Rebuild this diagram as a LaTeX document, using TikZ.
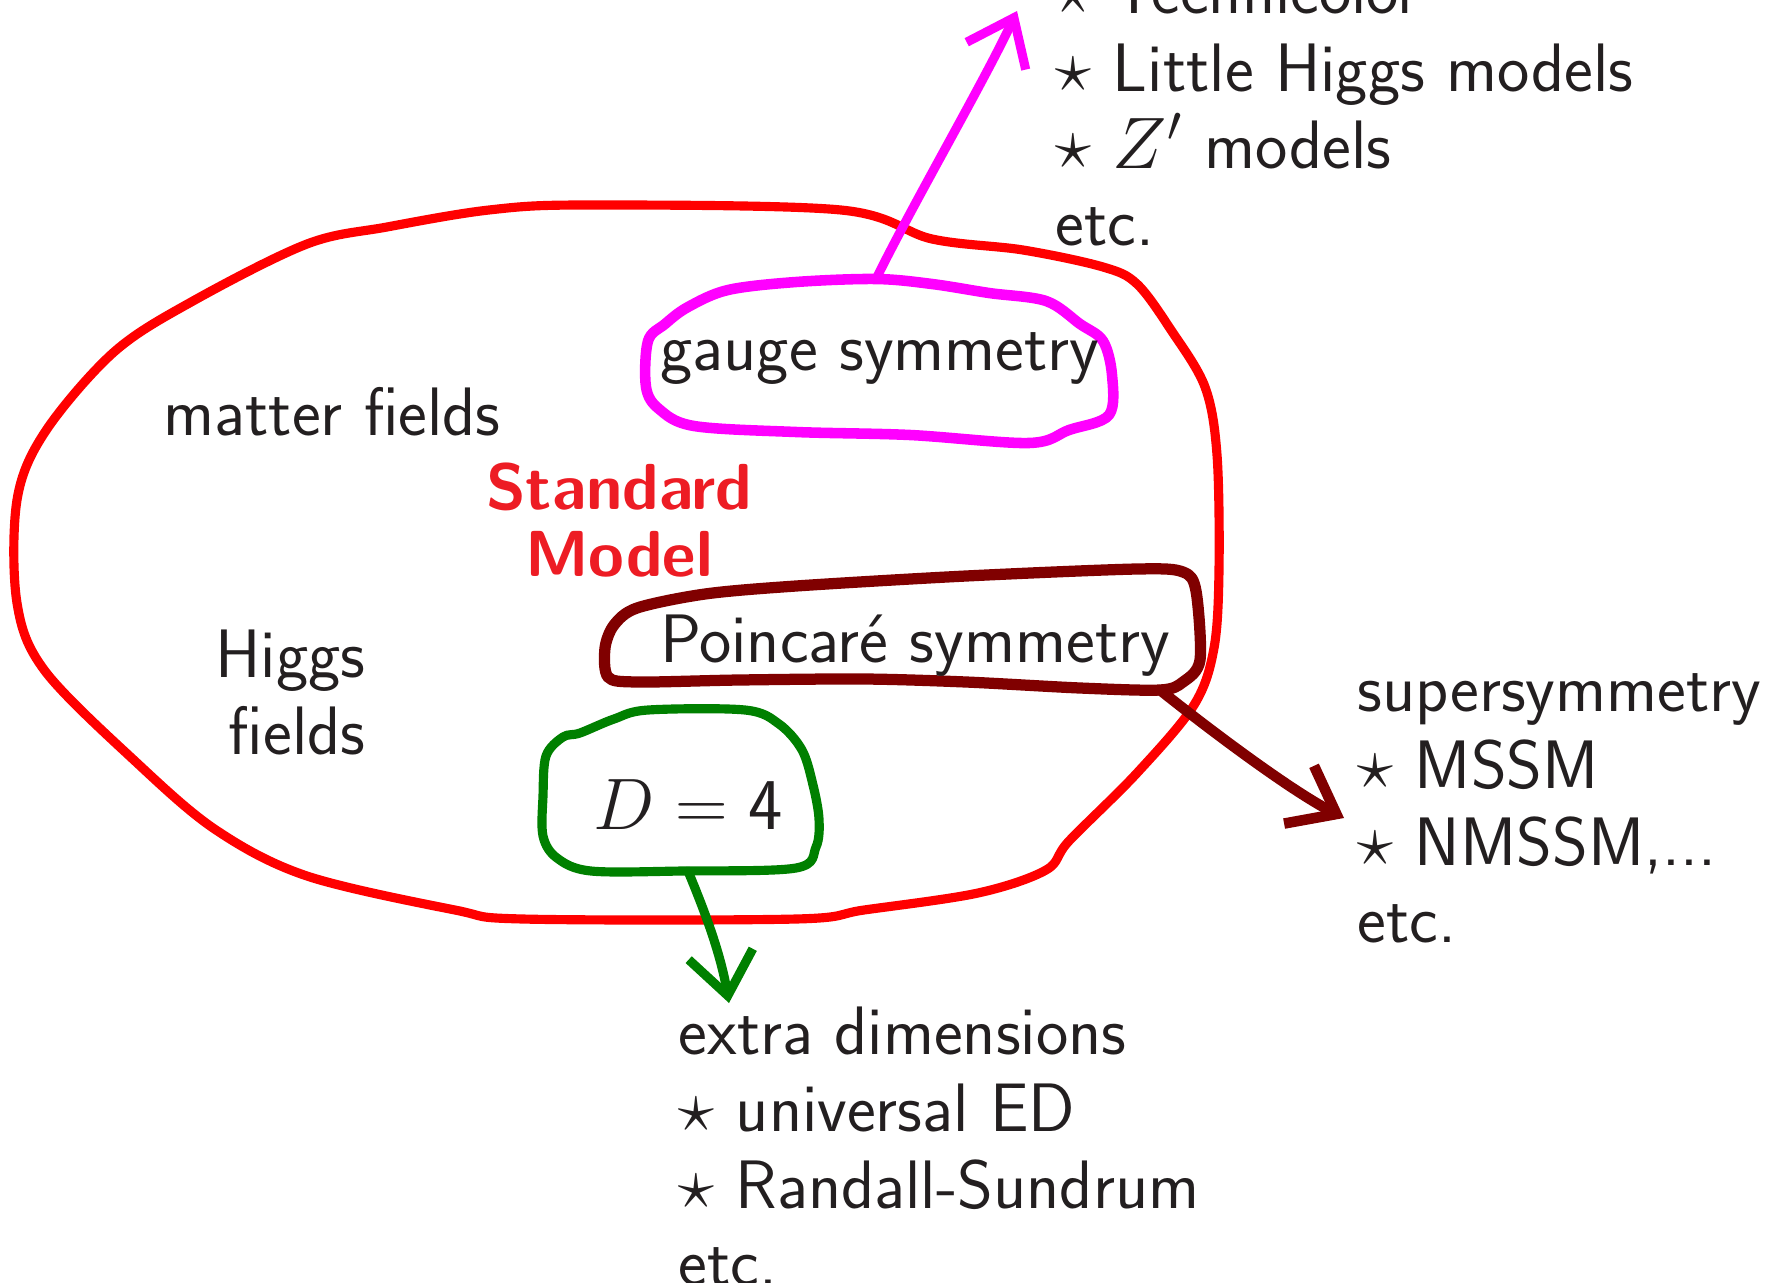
\documentclass[tikz,border=0pt]{standalone}
\usepackage{amsmath,amssymb}
\usepackage{xcolor}
\usetikzlibrary{arrows.meta,positioning}
\definecolor{ink}{RGB}{35,31,32}
\definecolor{smred}{RGB}{237,28,36}
\definecolor{smring}{RGB}{255,0,0}
\definecolor{gaugecol}{RGB}{255,0,255}
\definecolor{poincol}{RGB}{128,0,0}
\definecolor{dimcol}{RGB}{0,128,0}

\begin{document}
\begin{tikzpicture}[
  x=0.01cm, y=-0.01cm,
  txt/.style={inner sep=0pt, text=ink, font=\sffamily\fontsize{19.5}{21.9}\selectfont},
  lst/.style={txt, align=left, anchor=west},
  smlabel/.style={inner sep=0pt, text=smred, align=center, font=\sffamily\bfseries\fontsize{18.5}{19}\selectfont},
  ring/.style={line width=#1, line join=round, line cap=round},
  arr/.style={line width=#1, line cap=round, -{Straight Barb[length=4.2mm, width=6.5mm]}}
]
\useasboundingbox (0,0) rectangle (1783,1282);

% the Standard Model
\draw[ring=2.6pt, smring] plot[smooth cycle, tension=0.55] coordinates {
  (586,205) (841,210) (932,239) (1023,250) (1103,267) (1137,284) (1171,330)
  (1205,387) (1217,455) (1219,569) (1214,648) (1194,705) (1137,773) (1069,841)
  (1046,870) (978,893) (864,910) (796,919) (523,919) (455,910) (307,876)
  (216,830) (136,762) (45,671) (17,603) (17,500) (45,432) (114,352)
  (193,301) (307,244) (387,227) (489,210)};

\node[txt] (matter) at (332,412) {matter fields};
\node[txt, align=right, anchor=east] (higgs) at (366,692) {Higgs\\fields};
\node[smlabel] (sm) at (619,520) {Standard\\Model};

% gauge symmetry
\draw[ring=3pt, gaugecol] plot[smooth cycle, tension=0.55] coordinates {
  (876,279) (796,282) (728,290) (688,307) (665,324) (648,341) (646,387)
  (659,409) (694,426) (796,432) (910,435) (1029,443) (1069,430) (1109,415)
  (1112,375) (1103,341) (1080,324) (1046,301) (989,293) (932,284)};
\node[txt] (gauge) at (880,359) {gauge symmetry};

% Poincare symmetry
\draw[ring=3.2pt, poincol] plot[smooth cycle, tension=0.5] coordinates {
  (637,608) (705,594) (796,586) (966,576) (1137,569) (1183,572) (1196,591)
  (1200,660) (1183,682) (1160,690) (1080,688) (966,682) (864,679) (739,680)
  (637,682) (608,677) (605,648) (614,625)};
\node[txt] (poinc) at (915,646) {Poincar\'e symmetry};

% D = 4
\draw[ring=2.6pt, dimcol] plot[smooth cycle, tension=0.55] coordinates {
  (580,733) (614,719) (648,710) (745,710) (779,724) (802,750) (813,785)
  (819,819) (816,847) (796,868) (682,871) (591,871) (557,858) (543,836)
  (543,796) (546,756) (563,737)};
\node[txt] (dim) at (688,805) {$D=\mathsf{4}$};

% extensions
\node[lst] (bsm) at (1055,106) {$\star$ Technicolor\\$\star$ Little Higgs models\\$\star$ $Z'$ models\\etc.};
\node[lst] (susy) at (1357,808) {supersymmetry\\$\star$ MSSM\\$\star$ NMSSM,...\\etc.};
\node[lst] (xdim) at (678,1146) {extra dimensions\\$\star$ universal ED\\$\star$ Randall-Sundrum\\etc.};

\coordinate (gtail) at (876,279);
\coordinate (gtip) at (1017,11);
\coordinate (ptail) at (1160,690);
\coordinate (ptip) at (1344,818);
\coordinate (dtail) at (688,871);
\coordinate (dtip) at (729,1003);

\draw[arr=2.6pt, gaugecol] (gtail) .. controls (915,200) and (985,80) .. (gtip);
\draw[arr=3pt, poincol] (ptail) .. controls (1210,730) and (1290,790) .. (ptip);
\draw[arr=2.6pt, dimcol] (dtail) .. controls (702,905) and (720,950) .. (dtip);
\end{tikzpicture}
\end{document}
